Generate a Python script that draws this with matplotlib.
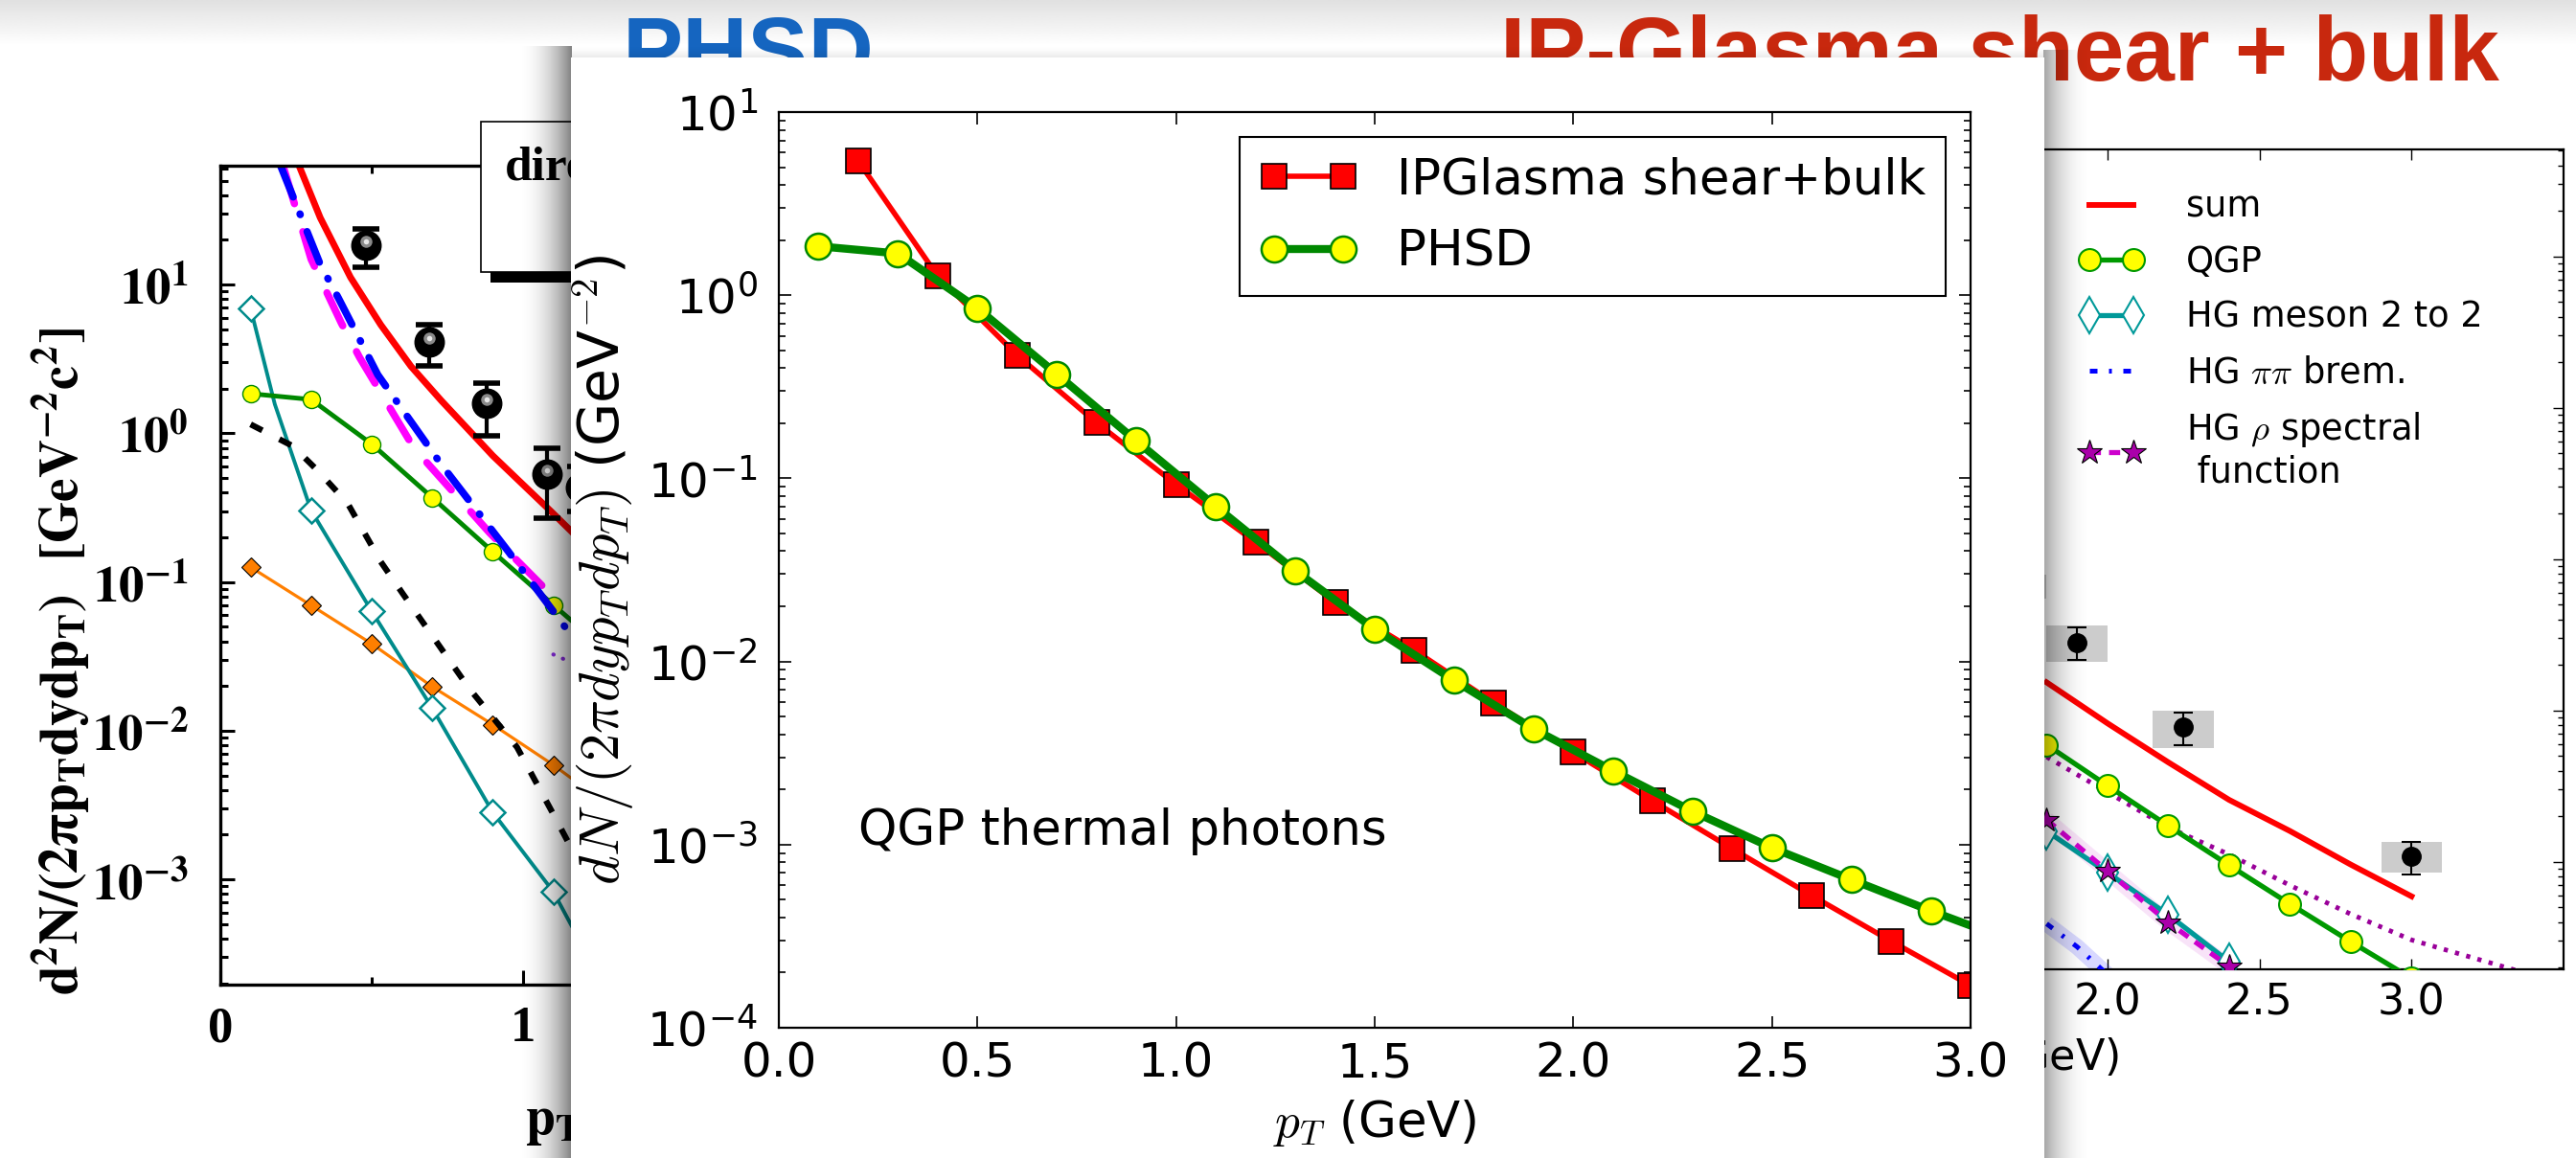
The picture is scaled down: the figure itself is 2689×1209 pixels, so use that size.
import numpy as np
import matplotlib
matplotlib.use("Agg")
import matplotlib.pyplot as plt
import matplotlib.transforms as mtransforms
from matplotlib.patches import Rectangle
from matplotlib.ticker import LogLocator, NullFormatter, NullLocator, FixedLocator

W, H = 2689, 1209

# ---------------- foreground panel: QGP thermal photons ----------------
ipg_pt = [0.2, 0.4, 0.6, 0.8, 1.0, 1.2, 1.4, 1.6, 1.8, 2.0, 2.2, 2.4, 2.6, 2.8, 3.0]
ipg_yield = [5.4, 1.27, 0.47, 0.201, 0.0926, 0.0449, 0.0211, 0.0115, 0.00594,
             0.00319, 0.00173, 0.00095, 0.000527, 0.000297, 0.000170]
phsd_pt = [0.1, 0.3, 0.5, 0.7, 0.9, 1.1, 1.3, 1.5, 1.7, 1.9, 2.1, 2.3, 2.5, 2.7, 2.9, 3.1]
phsd_yield = [1.85, 1.69, 0.848, 0.370, 0.160, 0.0702, 0.0313, 0.0150, 0.00787,
              0.00428, 0.00253, 0.00152, 0.00096, 0.000644, 0.000435, 0.000300]
main_xticks = [0.0, 0.5, 1.0, 1.5, 2.0, 2.5, 3.0]
main_xticklabels = ['0.0', '0.5', '1.0', '1.5', '2.0', '2.5', '3.0']
main_yticks = [1e-4, 1e-3, 1e-2, 1e-1, 1e0, 1e1]
main_yticklabels = [r'$\mathdefault{10^{-4}}$', r'$\mathdefault{10^{-3}}$',
                    r'$\mathdefault{10^{-2}}$', r'$\mathdefault{10^{-1}}$',
                    r'$\mathdefault{10^{0}}$', r'$\mathdefault{10^{1}}$']

# ---------------- left background panel (PHSD components) ----------------
l_sum_pt = [0.26, 0.33, 0.43, 0.53, 0.63, 0.73, 0.90, 1.09, 1.16]
l_sum = [63.1, 28.2, 11.2, 5.37, 2.82, 1.66, 0.708, 0.302, 0.219]
l_blue_pt = [0.20, 0.33, 0.39, 0.52, 0.73, 0.95, 1.15]
l_blue = [62.4, 13.7, 8.13, 2.48, 0.617, 0.162, 0.0465]
l_mag_pt = [0.21, 0.30, 0.40, 0.46, 0.64, 0.89, 1.09]
l_mag = [60.3, 14.8, 5.50, 3.24, 0.794, 0.214, 0.0832]
l_teal_pt = [0.1, 0.18, 0.3, 0.43, 0.5, 0.7, 0.9, 1.1, 1.16]
l_teal = [6.92, 1.57, 0.303, 0.110, 0.0637, 0.0142, 0.00283, 0.000828, 0.00049]
l_teal_marks = [0, 2, 4, 5, 6, 7]
l_dash_pt = [0.1, 0.24, 0.32, 0.42, 0.53, 0.60, 0.82, 0.98, 1.10, 1.16]
l_dash = [1.15, 0.82, 0.566, 0.34, 0.137, 0.0851, 0.0195, 0.00776, 0.00275, 0.00162]
l_orange_pt = [0.1, 0.3, 0.5, 0.7, 0.9, 1.1, 1.16]
l_orange = [0.126, 0.0697, 0.0385, 0.0198, 0.011, 0.00589, 0.00479]
l_violet_pt = [1.10, 1.15]
l_violet = [0.0326, 0.0294]
l_data_pt = [0.48, 0.69, 0.88, 1.08, 1.19]
l_data = [18.4, 4.14, 1.6, 0.535, 0.43]
l_data_lo = [13.1, 2.86, 0.97, 0.27, 0.30]
l_data_hi = [23.7, 5.4, 2.18, 0.79, 0.60]
left_yticks = [1e-3, 1e-2, 1e-1, 1e0, 1e1]
left_yticklabels = [r'$\mathbf{10^{-3}}$', r'$\mathbf{10^{-2}}$', r'$\mathbf{10^{-1}}$',
                    r'$\mathbf{10^{0}}$', r'$\mathbf{10^{1}}$']
left_xticks = [0, 1, 2, 3]
left_xticklabels = ['0', '1', '', '']

# ---------------- right background panel (IP-Glasma components) ----------------
r_sum_pt = [1.8, 2.0, 2.2, 2.4, 2.6, 2.8, 3.0]
r_sum = [0.01535, 0.00824, 0.00455, 0.00257, 0.00160, 0.00096, 0.000592]
r_meson_pt = [1.8, 2.0, 2.2, 2.4]
r_meson = [1.6e-3, 8.5e-4, 4.47e-4, 2.19e-4]
r_rho_pt = [1.8, 2.0, 2.2, 2.4]
r_rho = [1.9e-3, 8.7e-4, 3.98e-4, 2.04e-4]
r_brem_pt = [1.8, 1.9, 2.0]
r_brem = [3.9e-4, 2.75e-4, 1.8e-4]
r_dot_pt = [1.8, 2.2, 2.4, 2.6, 2.8, 3.0, 3.4]
r_dot = [0.00494, 0.00169, 0.00112, 0.00070, 0.000452, 0.000305, 0.000178]
r_data_pt = [1.7, 1.9, 2.25, 3.0]
r_data = [0.066, 0.0282, 0.00778, 0.00109]
r_err_lo = [0.056, 0.0216, 0.00586, 0.00083]
r_err_hi = [0.078, 0.0356, 0.00964, 0.00136]
r_sys_lo = [0.055, 0.0209, 0.00561, 0.000845]
r_sys_hi = [0.079, 0.0365, 0.00996, 0.00135]
right_xticks = [0.0, 0.5, 1.0, 1.5, 2.0, 2.5, 3.0]
right_xticklabels = ['', '', '', '', '2.0', '2.5', '3.0']

plt.rcParams['font.family'] = ['DejaVu Sans']
plt.rcParams['mathtext.fontset'] = 'cm'

fig = plt.figure(figsize=(W / 100, H / 100), dpi=100, facecolor='white')
# pixel coordinates (origin top-left) -> figure fraction
pix = mtransforms.Affine2D().scale(1 / W, -1 / H).translate(0, 1) + fig.transFigure


def box(x0, y0, x1, y1):
    return [x0 / W, 1 - y1 / H, (x1 - x0) / W, (y1 - y0) / H]


# ---------------- slide background with titles ----------------
bg = fig.add_axes([0, 0, 1, 1], zorder=-3)
bg.axis('off')
grad = np.linspace(0.88, 1.0, 64)[:, None] * np.ones((1, 4))
bg.imshow(grad, cmap='gray', vmin=0, vmax=1, extent=[0, W, 48, 0], aspect='auto',
          interpolation='bilinear')
bg.set_xlim(0, W)
bg.set_ylim(H, 0)
bg.text(650, 84, 'PHSD', color='#1565c0', fontsize=68, fontweight='bold',
        family='Liberation Sans', va='baseline', ha='left')
bg.text(2609, 84, 'IP-Glasma shear + bulk', color='#c8280e', fontsize=68,
        fontweight='bold', family='Liberation Sans', va='baseline', ha='right')

# ---------------- left background panel ----------------
axL = fig.add_axes(box(230, 173, 1178, 1028), zorder=-2)
axL.set_yscale('log')
axL.set_xlim(0, 3)
axL.set_ylim(10 ** -3.707, 10 ** 1.8)
axL.plot(l_orange_pt, l_orange, color='#ff7f00', lw=2.3, marker='D', ms=10,
         mfc='#ff7f00', mec='black', mew=0.8, markevery=list(range(6)))
axL.plot(l_teal_pt, l_teal, color='#008b8b', lw=2.8, marker='D', ms=13,
         mfc='white', mec='#008b8b', mew=1.8, markevery=l_teal_marks)
axL.plot(l_dash_pt, l_dash, color='black', lw=4.5, ls=(0, (2.2, 3.2)))
axL.plot(phsd_pt, phsd_yield, color='#008800', lw=3.5, marker='o', ms=13,
         mfc='#ffff00', mec='#008800', mew=1.0)
axL.plot(l_mag_pt, l_mag, color='#ff00ff', lw=5.5, ls=(0, (5, 4)),
         dash_capstyle='round')
axL.plot(l_blue_pt, l_blue, color='#0000ff', lw=5.5, ls=(0, (4.5, 2.5, 0.1, 2.5)),
         dash_capstyle='round')
axL.plot(l_violet_pt, l_violet, color='#8a2be2', lw=3, ls=(0, (0.1, 2.5)),
         dash_capstyle='round')
axL.plot(l_sum_pt, l_sum, color='#ff0000', lw=5)
d_lo = np.array(l_data) - np.array(l_data_lo)
d_hi = np.array(l_data_hi) - np.array(l_data)
axL.errorbar(l_data_pt, l_data, yerr=[d_lo, d_hi], fmt='none', ecolor='black',
             elinewidth=3, capsize=10, capthick=4)
axL.plot(l_data_pt, l_data, ls='none', marker='o', ms=22, mfc='black', mec='black')
hl = mtransforms.offset_copy(axL.transData, fig=fig, x=0, y=4, units='dots')
axL.plot(l_data_pt, l_data, ls='none', marker='o', ms=9, mfc='#8a8a8a', mew=0,
         transform=hl)
axL.plot(l_data_pt, l_data, ls='none', marker='o', ms=4, mfc='#e8e8e8', mew=0,
         transform=hl)

axL.set_yticks(left_yticks, labels=left_yticklabels, math_fontfamily='stix', fontsize=38)
axL.yaxis.set_minor_locator(LogLocator(base=10, subs=np.arange(2, 10)))
axL.yaxis.set_minor_formatter(NullFormatter())
axL.set_xticks(left_xticks, labels=left_xticklabels, fontsize=38,
               family='Liberation Serif', fontweight='bold')
axL.xaxis.set_minor_locator(FixedLocator([0.5, 1.5, 2.5]))
axL.tick_params(which='both', direction='in', top=True, right=True, width=2.2)
axL.tick_params(which='major', length=11)
axL.tick_params(which='minor', length=6)
axL.tick_params(axis='y', pad=24)
axL.tick_params(axis='x', pad=16)
for s in axL.spines.values():
    s.set_linewidth(2.4)
axL.set_ylabel(r'$\mathbf{d^2N/(2\pi p_T dydp_T)}$  $\mathbf{[GeV^{-2}c^2]}$',
               math_fontfamily='stix', fontsize=40)
axL.yaxis.set_label_coords(-0.176, 0.395)
axL.yaxis.label.set_va('center')
axL.text(548, 1184, r'$\mathbf{p_T}$', transform=pix, clip_on=False,
         math_fontfamily='stix', fontsize=40, ha='left', va='baseline')
# legend box of the left panel
axL.add_patch(Rectangle((512, 284), 320, 11, transform=pix, clip_on=False,
                        facecolor='black', edgecolor='none', zorder=9))
axL.add_patch(Rectangle((502, 127), 320, 157, transform=pix, clip_on=False,
                        facecolor='white', edgecolor='black', lw=1.2, zorder=10))
axL.text(527, 188, 'direct', transform=pix, clip_on=False, zorder=11,
         family='Liberation Serif', fontweight='bold', fontsize=37, va='baseline')

# ---------------- right background panel ----------------
axR = fig.add_axes(box(1565, 156, 2676, 1012), zorder=-2)
axR.set_yscale('log')
axR.set_xlim(0, 3.5)
axR.set_ylim(1.95e-4, 51)
for x, lo, hi in zip(r_data_pt, r_sys_lo, r_sys_hi):
    axR.add_patch(Rectangle((x - 0.1, lo), 0.2, hi - lo, facecolor='#cccccc',
                            edgecolor='none', zorder=1))
axR.plot(r_dot_pt, r_dot, color='#990099', lw=3.5, ls=(0, (0.9, 1.6)), zorder=2)
axR.plot(r_brem_pt, r_brem, color='#0000ff', lw=12, alpha=0.15, zorder=2,
         solid_capstyle='butt')
axR.plot(r_rho_pt, r_rho, color='#dd66dd', lw=12, alpha=0.18, zorder=2,
         solid_capstyle='butt')
ln_sum, = axR.plot(r_sum_pt, r_sum, color='#ff0000', lw=4.3, zorder=3, label='sum')
ln_qgp, = axR.plot(ipg_pt, ipg_yield, color='#009900', lw=3.8, marker='o', ms=16.5,
                   mfc='#ffff00', mec='#009900', mew=1.5, zorder=3, label='QGP')
ln_mes, = axR.plot(r_meson_pt, r_meson, color='#009999', lw=3.8, marker='d', ms=19,
                   mfc='white', mec='#009999', mew=1.5, zorder=3,
                   label='HG meson 2 to 2')
ln_brem, = axR.plot(r_brem_pt, r_brem, color='#0000ff', lw=3.6,
                    ls=(0, (1.6, 2.4, 0.6, 2.4)), zorder=3, label=r'HG $\pi\pi$ brem.')
ln_rho, = axR.plot(r_rho_pt, r_rho, color='#cc00cc', lw=3.8, ls=(0, (2.2, 1.6)),
                   marker='*', ms=19, mfc='#aa00aa', mec='black', mew=0.8, zorder=4,
                   label='HG $\\rho$ spectral\n function')
e_lo = np.array(r_data) - np.array(r_err_lo)
e_hi = np.array(r_err_hi) - np.array(r_data)
axR.errorbar(r_data_pt, r_data, yerr=[e_lo, e_hi], fmt='o', color='black', ms=14,
             elinewidth=1.5, capsize=7, capthick=1.5, zorder=5)
axR.set_xticks(right_xticks, labels=right_xticklabels, fontsize=32)
axR.yaxis.set_minor_locator(LogLocator(base=10, subs=np.arange(2, 10)))
axR.yaxis.set_minor_formatter(NullFormatter())
axR.xaxis.set_minor_locator(NullLocator())
axR.tick_params(which='both', direction='in', top=True, right=True, width=1,
                labelleft=False)
axR.tick_params(which='major', length=8, labelsize=32)
axR.tick_params(which='minor', length=4.5)
axR.tick_params(axis='x', pad=10)
for s in axR.spines.values():
    s.set_linewidth(1.6)
axR.text(2212, 1117, r'$p_T$ (GeV)', transform=pix, clip_on=False, fontsize=32,
         ha='right', va='baseline')
axR.legend(handles=[ln_sum, ln_qgp, ln_mes, ln_brem, ln_rho], loc='upper left',
           bbox_to_anchor=(2155, 183), bbox_transform=pix, borderaxespad=0,
           frameon=False, fontsize=26.5, handlelength=1.85, handletextpad=1.2,
           labelspacing=0.56, numpoints=2)

# ---------------- paper sheet of the foreground panel ----------------
ov = fig.add_axes([0, 0, 1, 1], zorder=-1)
ov.axis('off')
t = np.linspace(0, 1, 128)
left_sh = np.zeros((2, 128, 4))
left_sh[..., 3] = 0.5 * t ** 2.2
right_sh = np.zeros((2, 128, 4))
right_sh[..., 3] = 0.36 * (1 - t) ** 2.2
top_sh = np.zeros((64, 2, 4))
top_sh[..., 3] = (0.10 * np.linspace(0, 1, 64) ** 2)[:, None]
ov.imshow(left_sh, extent=[538, 597, H, 48], aspect='auto', interpolation='bilinear')
ov.imshow(right_sh, extent=[2133, 2186, H, 52], aspect='auto', interpolation='bilinear')
ov.imshow(top_sh, extent=[597, 2133, 61, 46], aspect='auto', interpolation='bilinear')
ov.add_patch(Rectangle((596, 60), 2134 - 596, H - 60 + 5, facecolor='white',
                       edgecolor='none', zorder=5))
ov.set_xlim(0, W)
ov.set_ylim(H, 0)

# ---------------- foreground axes ----------------
ax = fig.add_axes(box(813, 117, 2057, 1073), zorder=1)
ax.set_yscale('log')
ax.set_xlim(0, 3)
ax.set_ylim(1e-4, 10)
ax.plot(ipg_pt, ipg_yield, color='#ff0000', lw=4, marker='s', ms=19,
        mfc='#ff0000', mec='black', mew=1.2, label='IPGlasma shear+bulk')
ax.plot(phsd_pt, phsd_yield, color='#008800', lw=6, marker='o', ms=19.5,
        mfc='#ffff00', mec='#008800', mew=1.8, label='PHSD')
ax.set_xticks(main_xticks, labels=main_xticklabels)
ax.set_yticks(main_yticks, labels=main_yticklabels)
ax.yaxis.set_minor_locator(LogLocator(base=10, subs=np.arange(2, 10)))
ax.yaxis.set_minor_formatter(NullFormatter())
ax.xaxis.set_minor_locator(NullLocator())
ax.tick_params(which='both', direction='in', top=True, right=True, width=1.2)
ax.tick_params(which='major', length=9, labelsize=36)
ax.tick_params(which='minor', length=5)
ax.tick_params(axis='x', pad=10)
ax.tick_params(axis='y', pad=16)
for s in ax.spines.values():
    s.set_linewidth(1.6)
ax.set_xlabel(r'$p_T$ (GeV)', fontsize=37, labelpad=8)
ax.set_ylabel(r'$dN/(2\pi dyp_Tdp_T)$ (GeV$^{-2}$)', fontsize=42, labelpad=8)
ax.text(0.2, 1e-3, 'QGP thermal photons', fontsize=37, va='baseline', ha='left')
leg = ax.legend(loc='upper right', fontsize=37, fancybox=False, framealpha=1,
                edgecolor='black', numpoints=2)
leg.get_frame().set_linewidth(1.5)

fig.savefig('out.png', dpi=100, facecolor='white')
